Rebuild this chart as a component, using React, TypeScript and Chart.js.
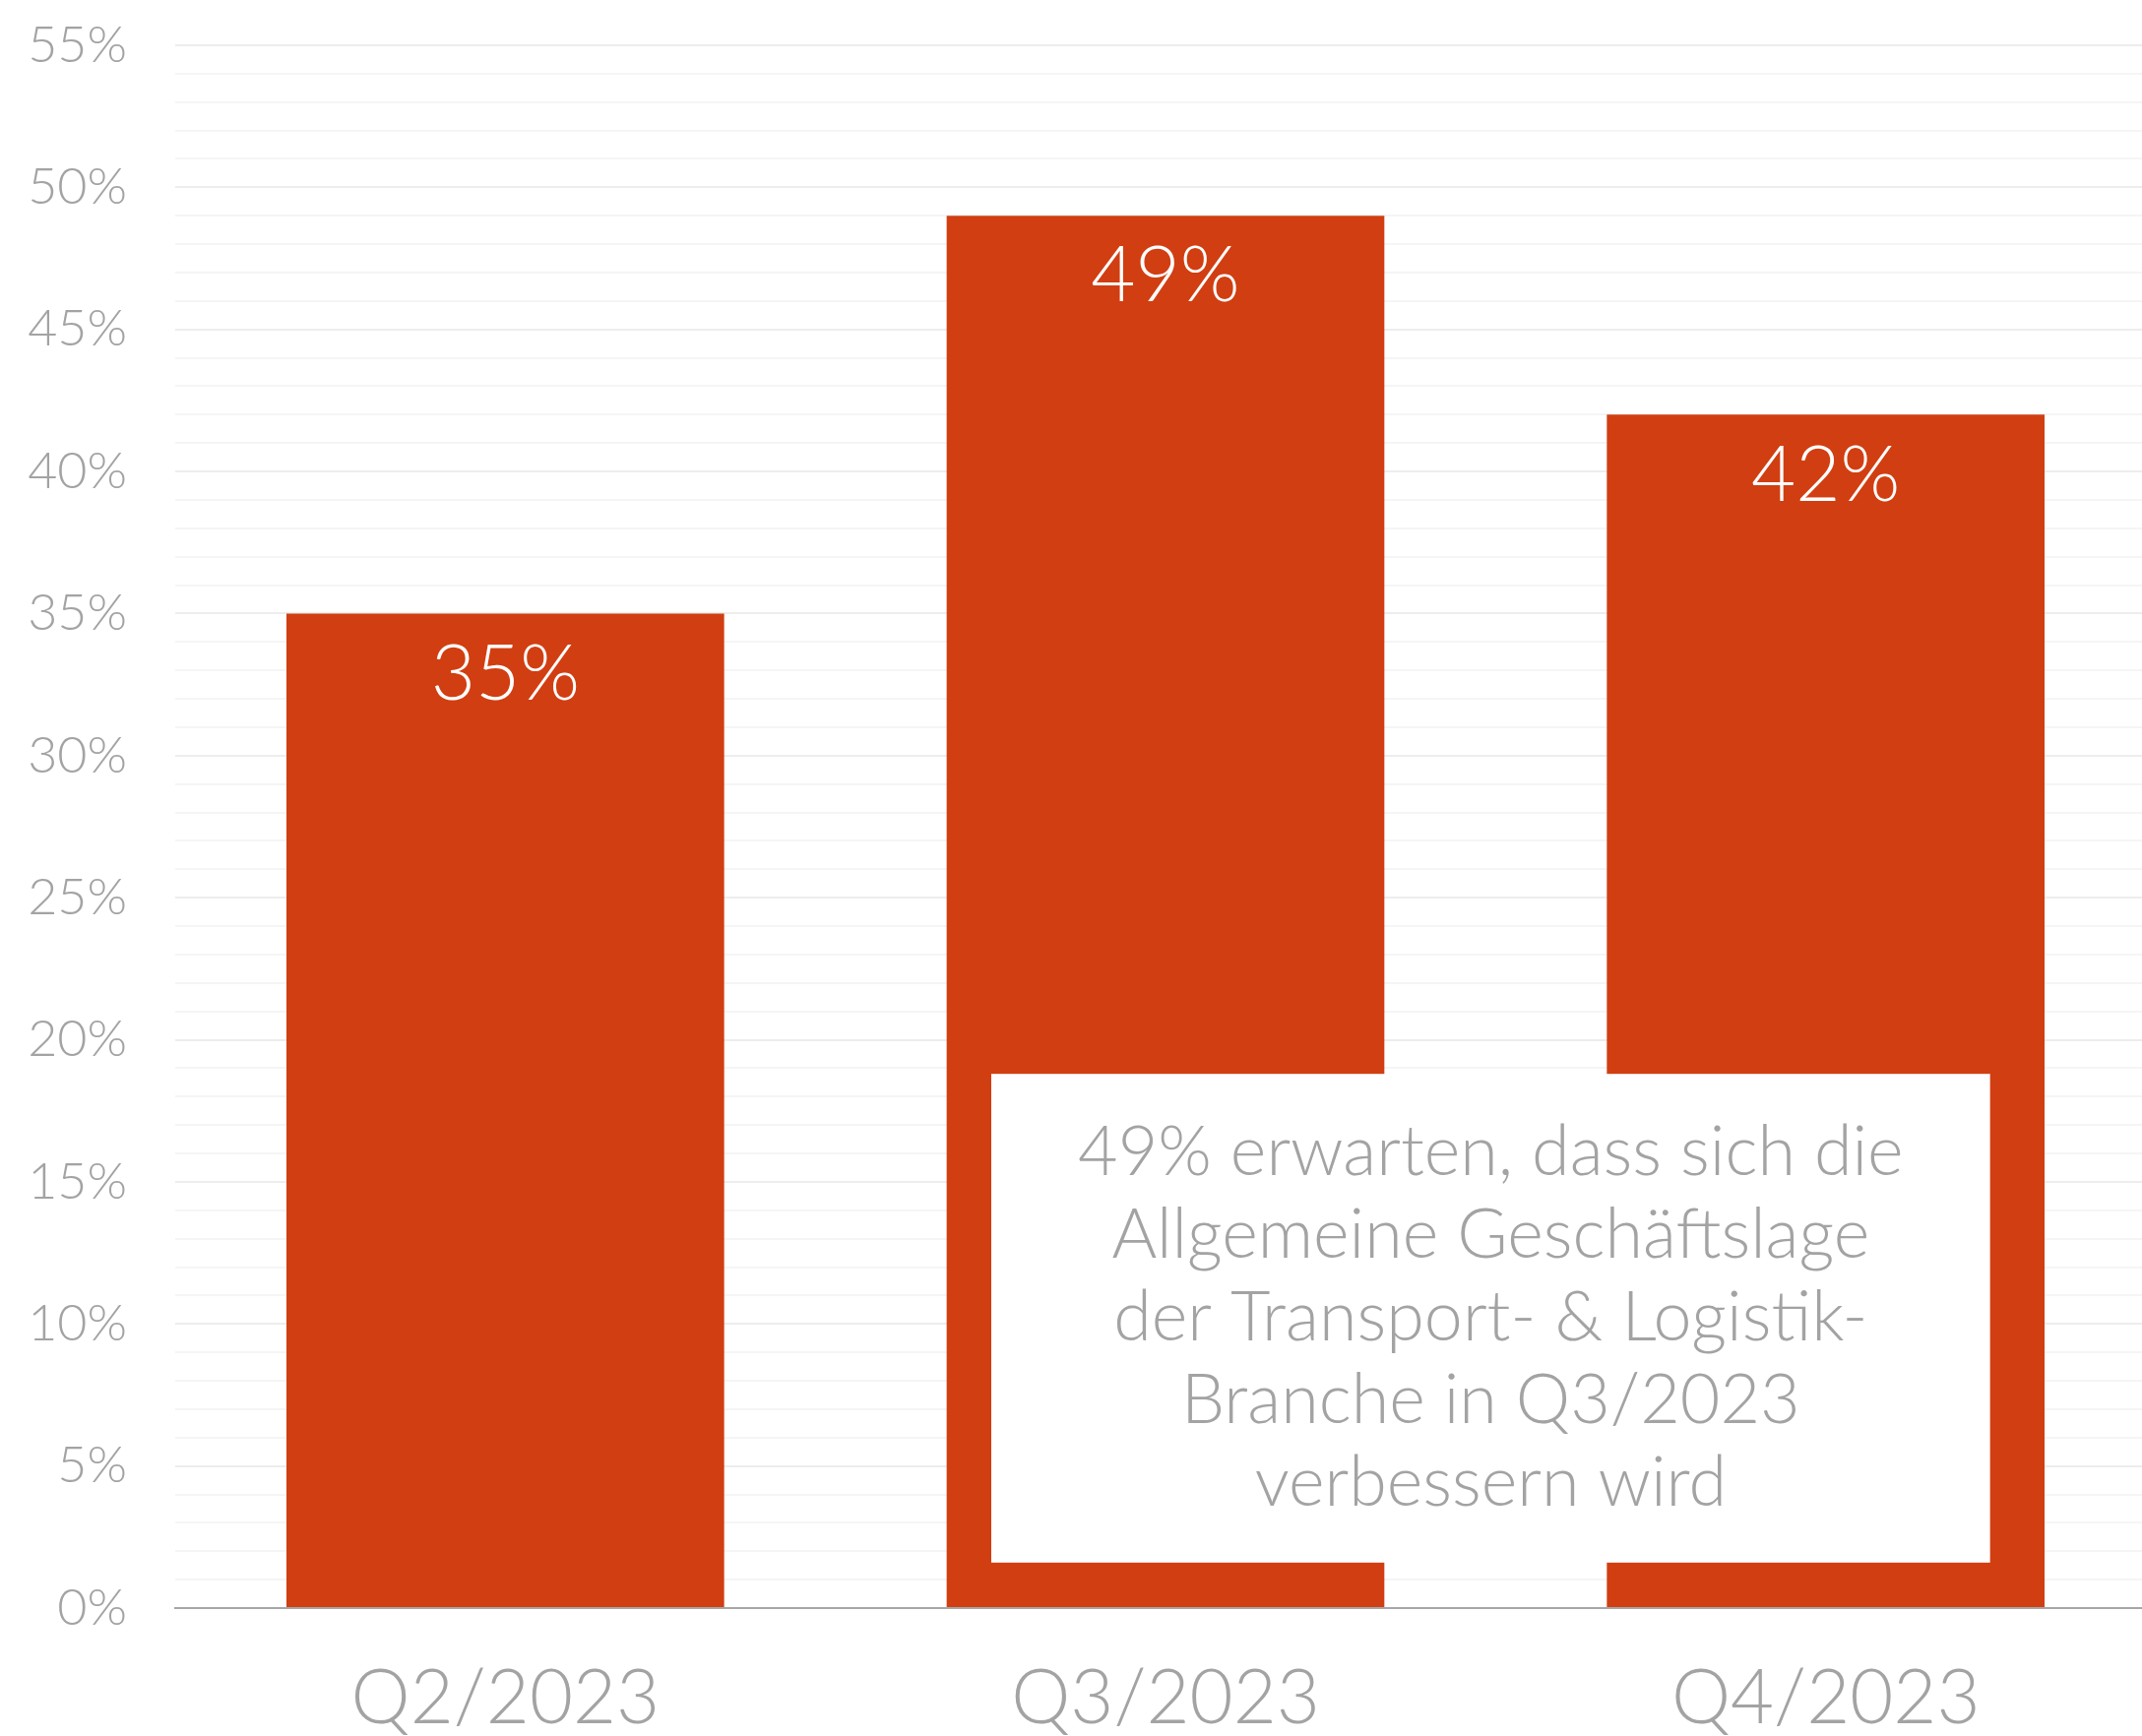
import React, { useEffect, useRef } from "react";
import { Chart, registerables } from "chart.js";

Chart.register(...registerables);

const categories = ["Q2/2023", "Q3/2023", "Q4/2023"];
const values = [35, 49, 42];
const yMax = 55;
const majorStep = 5;
const noteLines = [
  "49% erwarten, dass sich die",
  "Allgemeine Geschäftslage",
  "der Transport- & Logistik-",
  "Branche in Q3/2023",
  "verbessern wird",
];

const FONT = "Lato, 'Open Sans', sans-serif";
const GREY = "#a3a3a3";
const BAR = "#d13e11";
const W = 2190;
const H = 1764;

export default function App() {
  const ref = useRef<HTMLCanvasElement | null>(null);

  useEffect(() => {
    if (!ref.current) return;
    const labelPlugin = {
      id: "barLabels",
      afterDatasetsDraw(chart: any) {
        const ctx = chart.ctx;
        const meta = chart.getDatasetMeta(0);
        ctx.save();
        ctx.fillStyle = "#ffffff";
        ctx.font = `300 78px ${FONT}`;
        ctx.textAlign = "center";
        ctx.textBaseline = "middle";
        meta.data.forEach((bar: any, i: number) => {
          ctx.fillText(values[i] + "%", bar.x, bar.y + 62);
        });
        ctx.restore();
      },
    };
    const notePlugin = {
      id: "noteBox",
      afterDraw(chart: any) {
        const ctx = chart.ctx;
        const xs = chart.scales.x;
        const ys = chart.scales.y;
        const left = xs.getPixelForValue(1) - 177;
        const right = xs.getPixelForValue(2) + 167;
        const top = ys.getPixelForValue(18.8);
        const bottom = ys.getPixelForValue(1.6);
        ctx.save();
        ctx.fillStyle = "#ffffff";
        ctx.fillRect(left, top, right - left, bottom - top);
        ctx.fillStyle = GREY;
        ctx.font = `300 70px ${FONT}`;
        ctx.textAlign = "center";
        ctx.textBaseline = "middle";
        const cx = (left + right) / 2;
        const cy = (top + bottom) / 2;
        const lh = 84;
        noteLines.forEach((t, i) => {
          ctx.fillText(t, cx, cy + (i - (noteLines.length - 1) / 2) * lh);
        });
        ctx.restore();
      },
    };
    const chart = new Chart(ref.current, {
      type: "bar",
      data: {
        labels: categories,
        datasets: [
          {
            data: values,
            backgroundColor: BAR,
            borderWidth: 0,
            categoryPercentage: 1,
            barPercentage: 0.663,
          },
        ],
      },
      options: {
        responsive: false,
        animation: false,
        devicePixelRatio: 1,
        layout: { padding: { top: 46, right: 0, left: 0, bottom: 0 } },
        plugins: { legend: { display: false }, tooltip: { enabled: false } },
        scales: {
          x: {
            grid: { display: false, drawTicks: false },
            border: { color: "#a6a6a6", width: 2 },
            ticks: {
              color: GREY,
              font: { family: FONT, size: 76, weight: "300" as any },
              padding: 47,
            },
            afterFit(scale: any) {
              scale.height = 130;
              scale.paddingLeft = 0;
              scale.paddingRight = 0;
            },
          },
          y: {
            min: 0,
            max: yMax,
            grid: {
              drawTicks: false,
              color: (c: any) =>
                c.tick && c.tick.value % majorStep === 0 ? "#ededed" : "#f5f5f5",
              lineWidth: 2,
            },
            border: { display: false },
            ticks: {
              stepSize: 1,
              autoSkip: false,
              color: GREY,
              padding: 49,
              font: { family: FONT, size: 52, weight: "300" as any },
              callback: (v: any) => (Number(v) % majorStep === 0 ? v + "%" : ""),
            },
            afterFit(scale: any) {
              scale.width = 178;
              scale.paddingTop = 0;
              scale.paddingBottom = 0;
            },
          },
        },
      },
      plugins: [labelPlugin, notePlugin],
    });
    return () => chart.destroy();
  }, []);

  return (
    <div style={{ position: "absolute", left: 0, top: 0, width: 2176, height: H, overflow: "hidden", background: "#fff" }}>
      <canvas ref={ref} width={W} height={H} style={{ width: W, height: H, display: "block" }} />
    </div>
  );
}
